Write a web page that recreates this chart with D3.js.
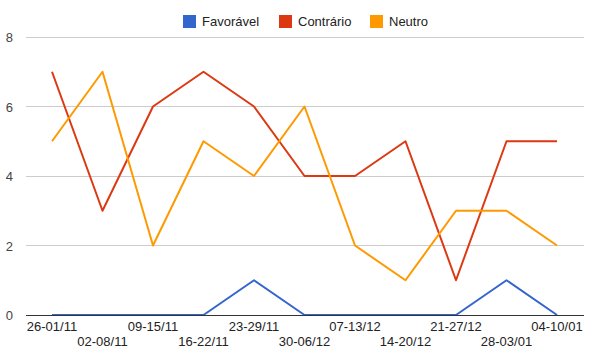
<!DOCTYPE html>
<html><head><meta charset="utf-8">
<script src="https://cdn.jsdelivr.net/npm/d3@7"></script>
<style>body{margin:0;background:#fff}svg{display:block}text{font-family:"Liberation Sans",Arial,sans-serif}</style>
</head><body><svg id="c" width="598" height="356"></svg>
<script>
const categories = ["26-01/11","02-08/11","09-15/11","16-22/11","23-29/11","30-06/12","07-13/12","14-20/12","21-27/12","28-03/01","04-10/01"];
const favoravel = [0,0,0,0,1,0,0,0,0,1,0];
const contrario = [7,3,6,7,6,4,4,5,1,5,5];
const neutro = [5,7,2,5,4,6,2,1,3,3,2];
const yTicks = [0,2,4,6,8];
const seriesNames = ["Favorável","Contrário","Neutro"];
const colors = ["#3366cc","#dc3912","#ff9900"];
const series = [favoravel, contrario, neutro];

const svg = d3.select("#c");
const x = d3.scalePoint().domain(categories).range([52,557]);
const y = d3.scaleLinear().domain([0,8]).range([315,37]);

// gridlines
svg.append("g").selectAll("line").data(yTicks.filter(d=>d>0)).join("line")
  .attr("x1",26).attr("x2",584).attr("y1",d=>y(d)).attr("y2",d=>y(d))
  .attr("stroke","#cccccc").attr("stroke-width",1).attr("shape-rendering","crispEdges");
// y labels
svg.append("g").selectAll("text").data(yTicks).join("text")
  .attr("x",13).attr("y",d=>y(d)+5).attr("text-anchor","end")
  .attr("font-size",13).attr("fill","#444").text(d=>d);
// x labels
svg.append("g").selectAll("text").data(categories).join("text")
  .attr("x",d=>x(d)).attr("y",(d,i)=>i%2===0?331:346).attr("text-anchor","middle")
  .attr("font-size",13).attr("fill","#222").text(d=>d);
// lines
const line = d3.line().x((d,i)=>x(categories[i])).y(d=>y(d));
series.forEach((s,k)=>{
  svg.append("path").datum(s).attr("d",line).attr("fill","none")
    .attr("stroke",colors[k]).attr("stroke-width",2).attr("stroke-linejoin","round");
});
// baseline
svg.append("line").attr("x1",26).attr("x2",584).attr("y1",y(0)).attr("y2",y(0))
  .attr("stroke","#333").attr("stroke-width",1).attr("shape-rendering","crispEdges");
// legend
const legX = [183,279,370];
const lg = svg.append("g");
seriesNames.forEach((n,k)=>{
  lg.append("rect").attr("x",legX[k]).attr("y",15).attr("width",13).attr("height",13).attr("fill",colors[k]);
  lg.append("text").attr("x",legX[k]+19).attr("y",26).attr("font-size",13).attr("fill","#222").text(n);
});
</script></body></html>
